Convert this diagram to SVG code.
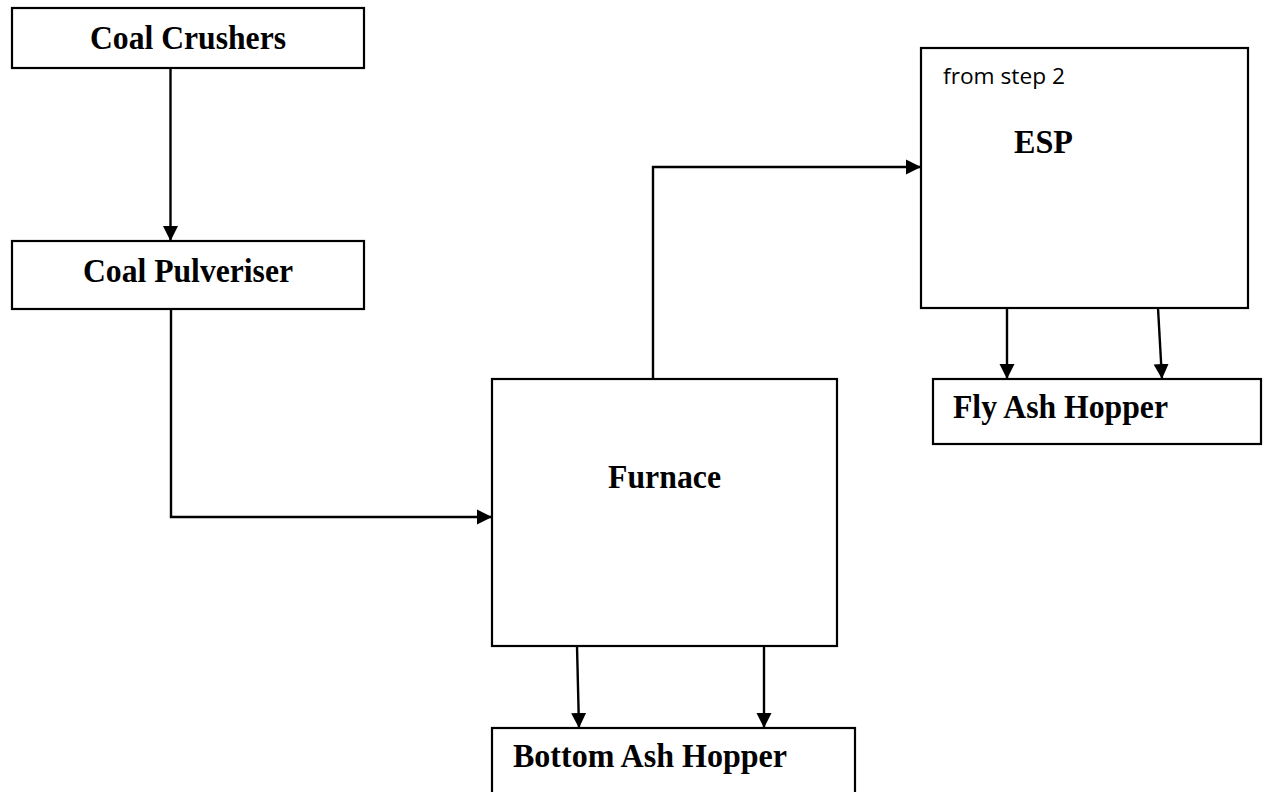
<svg xmlns="http://www.w3.org/2000/svg" width="1266" height="792" viewBox="0 0 1266 792">
<style>
.box{fill:#fff;stroke:#000;stroke-width:2.2}
.lbl{font-family:"Liberation Serif","Times New Roman",serif;font-weight:bold;font-size:33px;fill:#000}
.note{font-family:"Open Sans","Noto Sans",sans-serif;font-size:22px;fill:#000}
.conn{fill:none;stroke:#000;stroke-width:2.4;marker-end:url(#arr)}
</style>
<defs>
<marker id="arr" markerUnits="userSpaceOnUse" markerWidth="16" markerHeight="16" refX="15" refY="8" orient="auto">
<path d="M0,0.5 L15,8 L0,15.5 z" fill="#000"/>
</marker>
</defs>
<rect width="1266" height="792" fill="#fff"/>
<g id="coal-crushers">
<rect class="box" x="12" y="8" width="352" height="60"/>
<text class="lbl" x="90" y="49" textLength="196" lengthAdjust="spacingAndGlyphs">Coal Crushers</text>
</g>
<g id="coal-pulveriser">
<rect class="box" x="12" y="241" width="352" height="68"/>
<text class="lbl" x="83" y="282" textLength="210" lengthAdjust="spacingAndGlyphs">Coal Pulveriser</text>
</g>
<g id="furnace">
<rect class="box" x="492" y="379" width="345" height="267"/>
<text class="lbl" x="608" y="488" textLength="113" lengthAdjust="spacingAndGlyphs">Furnace</text>
</g>
<g id="bottom-ash-hopper">
<rect class="box" x="492" y="728" width="363" height="80"/>
<text class="lbl" x="513" y="767" textLength="274" lengthAdjust="spacingAndGlyphs">Bottom Ash Hopper</text>
</g>
<g id="esp">
<rect class="box" x="921" y="48" width="327" height="260"/>
<text class="note" x="943" y="84" textLength="122" lengthAdjust="spacingAndGlyphs">from step 2</text>
<text class="lbl" x="1014" y="153" textLength="59" lengthAdjust="spacingAndGlyphs">ESP</text>
</g>
<g id="fly-ash-hopper">
<rect class="box" x="933" y="379" width="328" height="65"/>
<text class="lbl" x="953" y="418" textLength="215" lengthAdjust="spacingAndGlyphs">Fly Ash Hopper</text>
</g>
<g id="connectors">
<path class="conn" d="M170.5,68 L170.5,241"/>
<path class="conn" d="M171,309 L171,517 L492,517"/>
<path class="conn" d="M653,379 L653,167 L921,167"/>
<path class="conn" d="M577,646 L579,728"/>
<path class="conn" d="M764,646 L764,728"/>
<path class="conn" d="M1007,308 L1007,379"/>
<path class="conn" d="M1158,308 L1162,379"/>
</g>
</svg>
